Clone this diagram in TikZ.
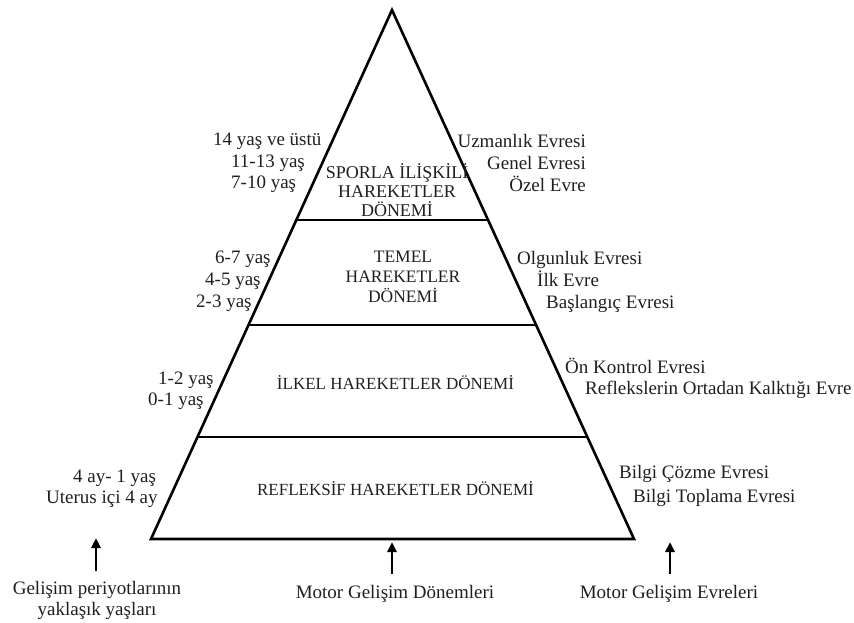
\documentclass[tikz,border=0pt]{standalone}
\usepackage{fontspec}
\setmainfont{Liberation Serif}
\usetikzlibrary{arrows.meta,calc}
\begin{document}
\begin{tikzpicture}[x=1pt,y=-1pt,
  edge/.style={line width=2.6pt,line join=miter},
  rung/.style={line width=2.4pt},
  lbl/.style={inner sep=0pt,text=black!88,font=\fontsize{19}{22}\selectfont},
  lbll/.style={lbl,anchor=base west},
  lblr/.style={lbl,anchor=base east},
  lblc/.style={lbl,anchor=base},
  period/.style={inner sep=0pt,text=black!88,font=\fontsize{17}{20}\selectfont,anchor=base},
  periodlg/.style={period,font=\fontsize{18}{20}\selectfont},
  pointer/.style={line width=2.6pt,-{Triangle[length=10pt,width=9pt]}}
]
\useasboundingbox (0,0) rectangle (854,622);

% pyramid outline
\coordinate (apex) at (392,10);
\coordinate (bl) at (151,539);
\coordinate (br) at (634,539);
\draw[edge] (apex) -- (br) -- (bl) -- cycle;

% level separators
\coordinate (r1l) at ($(apex)!0.397!(bl)$);
\coordinate (r1r) at ($(apex)!0.397!(br)$);
\coordinate (r2l) at ($(apex)!0.5955!(bl)$);
\coordinate (r2r) at ($(apex)!0.5955!(br)$);
\coordinate (r3l) at ($(apex)!0.8072!(bl)$);
\coordinate (r3r) at ($(apex)!0.8072!(br)$);
\draw[rung] (r1l) -- (r1r);
\draw[rung] (r2l) -- (r2r);
\draw[rung] (r3l) -- (r3r);

% period names inside the pyramid
\node[periodlg] (p1a) at (397,178) {SPORLA İLİŞKİLİ};
\node[periodlg] (p1b) at (397,197) {HAREKETLER};
\node[periodlg] (p1c) at (397,216) {DÖNEMİ};
\node[period,font=\fontsize{17.5}{20}\selectfont] (p2a) at (403,262) {TEMEL};
\node[period,font=\fontsize{17.5}{20}\selectfont] (p2b) at (403,282) {HAREKETLER};
\node[period,font=\fontsize{17.5}{20}\selectfont] (p2c) at (403,302) {DÖNEMİ};
\node[period] (p3) at (395.5,389) {İLKEL HAREKETLER DÖNEMİ};
\node[period] (p4) at (395.5,495) {REFLEKSİF HAREKETLER DÖNEMİ};

% approximate ages (left)
\node[lbll] (a1) at (213,145) {14 yaş ve üstü};
\node[lbll] (a2) at (231,167) {11-13 yaş};
\node[lbll] (a3) at (231,188) {7-10 yaş};
\node[lbll] (a4) at (215,263) {6-7 yaş};
\node[lbll] (a5) at (205,285) {4-5 yaş};
\node[lbll] (a6) at (196,307) {2-3 yaş};
\node[lbll] (a7) at (158,384) {1-2 yaş};
\node[lbll] (a8) at (148,405) {0-1 yaş};
\node[lbll] (a9) at (73,482) {4 ay- 1 yaş};
\node[lbll] (a10) at (46,503) {Uterus içi 4 ay};

% stages (right)
\node[lblr] (e1) at (586,147) {Uzmanlık Evresi};
\node[lblr] (e2) at (586,169) {Genel Evresi};
\node[lblr] (e3) at (586,191) {Özel Evre};
\node[lbll] (e4) at (517,264) {Olgunluk Evresi};
\node[lbll] (e5) at (537,286) {İlk Evre};
\node[lbll] (e6) at (546,308) {Başlangıç Evresi};
\node[lbll] (e7) at (565,373) {Ön Kontrol Evresi};
\node[lbll] (e8) at (585,394) {Reflekslerin Ortadan Kalktığı Evre};
\node[lbll] (e9) at (619,478) {Bilgi Çözme Evresi};
\node[lbll] (e10) at (633,502) {Bilgi Toplama Evresi};

% column captions
\node[lblc] (c1a) at (97,594) {Gelişim periyotlarının};
\node[lblc] (c1b) at (97,615) {yaklaşık yaşları};
\node[lblc] (c2) at (395,598) {Motor Gelişim Dönemleri};
\node[lblc] (c3) at (669,598) {Motor Gelişim Evreleri};

% pointers from captions up to the columns
\coordinate (tailL) at (96,571);
\coordinate (tipL) at (96,538);
\coordinate (tailM) at (392,574);
\coordinate (tipM) at (392,542);
\coordinate (tailR) at (670,574);
\coordinate (tipR) at (670,542);
\draw[pointer] (tailL) -- (tipL);
\draw[pointer] (tailM) -- (tipM);
\draw[pointer] (tailR) -- (tipR);
\end{tikzpicture}
\end{document}
